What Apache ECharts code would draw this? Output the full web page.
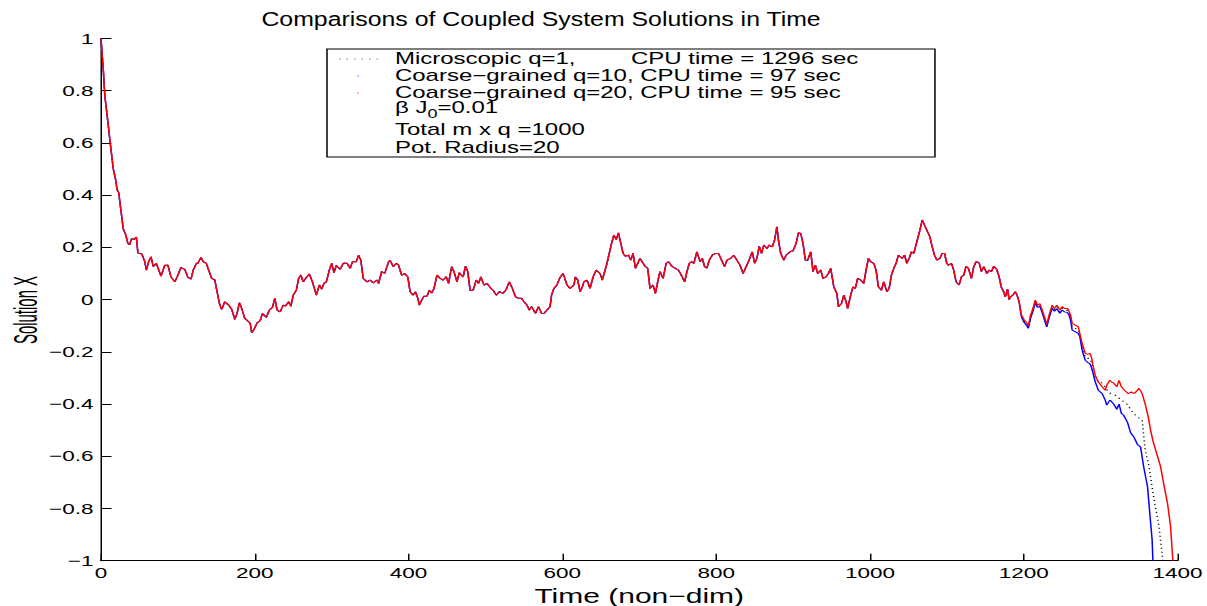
<!DOCTYPE html>
<html><head><meta charset="utf-8">
<script src="https://cdn.jsdelivr.net/npm/echarts@6/dist/echarts.min.js"></script>
<style>
html,body{margin:0;padding:0;background:#fff;overflow:hidden;}
#wrap{width:1207px;height:606px;overflow:hidden;}
#chart{width:804.667px;height:606px;transform:scaleX(1.5);transform-origin:0 0;}
</style></head><body>
<div id="wrap"><div id="chart"></div></div>
<script>
// ---- text ----
const titleText = 'Comparisons of Coupled System Solutions in Time';
const xAxisName = 'Time (non\u2212dim)';
const yAxisName = 'Solution X';
const seriesNames = ['Microscopic q=1,', 'Coarse\u2212grained q=10, CPU time = 97 sec', 'Coarse\u2212grained q=20, CPU time = 95 sec'];
const microCpuText = 'CPU time = 1296 sec';
const noteLines = ['Total m x q =1000', 'Pot. Radius=20'];

// ---- axes ----
const xMin = 0, xMax = 1400, xStep = 200;
const yMin = -1, yMax = 1, yStep = 0.2;

// ---- data (time, solution X) ----
// part where all three solutions coincide
const sharedPath = [
[0,1.0],[3,0.88],[5,0.78],[9,0.68],[12,0.60],[16,0.50],[19,0.46],[21,0.42],[23,0.41],[26,0.34],[29,0.27],[32,0.25],[35,0.215],[37,0.21],[40,0.234],[43,0.23],[46,0.24],[48,0.178],[53,0.175],[57,0.145],[59,0.113],[62,0.145],[65,0.164],[68,0.126],[72,0.139],[78,0.09],[83,0.132],[87,0.132],[91,0.087],[96,0.068],[99,0.087],[104,0.122],[109,0.116],[113,0.085],[117,0.078],[120,0.113],[124,0.139],[126,0.139],
[130,0.162],[133,0.145],[137,0.139],[140,0.113],[144,0.081],[148,0.075],[151,0.03],[154,-0.015],[157,-0.037],[161,-0.008],[166,-0.021],[170,-0.037],[174,-0.076],[177,-0.053],[180,-0.012],[183,-0.034],[187,-0.072],[192,-0.085],[194,-0.09],[196,-0.127],[199,-0.114],[203,-0.089],[207,-0.081],[210,-0.053],[215,-0.068],[219,-0.04],[223,-0.03],[226,0.005],[229,-0.04],[233,-0.047],[237,-0.021],[240,-0.025],[244,-0.008],[247,-0.025],[250,0.017],[254,0.036],[257,0.081],[260,0.094],[263,0.068],[266,0.081],[271,0.098],[275,0.068],[280,0.017],[284,0.056],[287,0.04],[290,0.062],[293,0.068],[297,0.113],[300,0.139],[303,0.103],[306,0.13],[311,0.116],[315,0.139],[320,0.139],[324,0.12],[327,0.145],[332,0.145],[335,0.17],[338,0.15],[341,0.081],[346,0.068],[350,0.075],[354,0.064],
[359,0.075],[361,0.062],[365,0.107],[369,0.1],[374,0.145],[376,0.15],[380,0.126],[384,0.139],[387,0.132],[391,0.094],[395,0.1],[399,0.087],[402,0.03],[406,0.017],[409,0.03],[412,0.005],[414,-0.021],[417,-0.002],[420,0.013],[424,0.013],[427,0.036],[430,0.025],[433,0.043],[437,0.094],[441,0.081],[445,0.075],[449,0.087],[452,0.062],[456,0.126],[459,0.107],[463,0.068],[466,0.103],[471,0.087],[474,0.128],[477,0.107],[480,0.036],[484,0.036],[488,0.075],[491,0.062],[494,0.087],[498,0.056],[502,0.062],[507,0.043],[510,0.036],[514,0.017],[518,0.03],[523,0.024],[527,0.039],[531,0.068],[535,0.043],[539,0.011],[543,0.005],[547,0.005],[550,-0.008],[554,-0.021],[557,-0.04],[560,-0.027],[565,-0.053],[569,-0.027],[573,-0.053],[576,-0.053],[580,-0.04],[584,-0.027],[586,0.017],[589,0.043],[593,0.056],[597,0.085],[601,0.1],[606,0.056],
[610,0.043],[615,0.056],[617,0.087],[620,0.075],[623,0.03],[626,0.049],[628,0.068],[632,0.075],[636,0.043],[640,0.087],[644,0.113],[649,0.1],[652,0.075],[655,0.107],[658,0.139],[661,0.177],[664,0.215],[667,0.247],[670,0.23],[673,0.256],[676,0.215],[679,0.177],[682,0.166],[686,0.17],[689,0.151],[692,0.177],[695,0.12],[698,0.139],[701,0.158],[705,0.139],[708,0.126],[711,0.12],[714,0.043],[718,0.056],[721,0.024],[724,0.068],[727,0.107],[731,0.081],[735,0.139],[738,0.145],[743,0.126],[747,0.12],[751,0.113],[756,0.087],[759,0.068],[762,0.107],[765,0.139],[768,0.145],[771,0.139],[775,0.183],[779,0.145],[782,0.158],[785,0.126],[788,0.12],[791,0.151],[795,0.17],[799,0.177],[803,0.177],[806,0.158],[811,0.126],[814,0.151],[819,0.158],[823,0.17],[827,0.151],[831,0.132],[835,0.1],[838,0.12],[842,0.145],[847,0.183],[850,0.139],[853,0.158],
[856,0.205],[859,0.177],[862,0.209],[866,0.196],[869,0.209],[873,0.202],[876,0.228],[879,0.279],[881,0.228],[884,0.177],[888,0.151],[891,0.17],[896,0.183],[900,0.187],[904,0.215],[907,0.256],[910,0.253],[913,0.215],[916,0.151],[919,0.151],[923,0.183],[926,0.107],[929,0.132],[932,0.1],[936,0.113],[939,0.081],[943,0.087],[946,0.1],[949,0.12],[953,0.049],[957,0.024],[959,-0.027],[963,-0.015],[966,0.017],[969,-0.008],[971,-0.034],[975,0.017],[978,0.049],[981,0.043],[984,0.081],[988,0.075],[992,0.062],[995,0.113],[998,0.158],[1001,0.145],[1005,0.139],[1008,0.113],[1011,0.049],[1015,0.036],[1018,0.068],[1022,0.03],[1025,0.043],[1028,0.094],[1031,0.12],[1034,0.139],[1037,0.17],[1042,0.158],[1045,0.17],[1048,0.139],[1051,0.158],[1054,0.183],[1057,0.177],[1061,0.221],[1065,0.266],[1068,0.305],[1071,0.285],[1074,0.266],[1078,0.24],[1081,0.202],[1084,0.17],[1087,0.151],[1091,0.158],[1094,0.177],[1097,0.177],[1100,0.139],
[1102,0.132],[1106,0.139],[1109,0.113],[1112,0.068],[1116,0.056],[1119,0.087],[1122,0.094],[1125,0.128],[1128,0.12],[1132,0.081],[1135,0.126],[1138,0.145],[1142,0.141],[1145,0.107],[1148,0.126],[1152,0.1],[1155,0.113],[1158,0.107],[1161,0.128],[1165,0.115],[1168,0.087],[1171,0.047],[1174,0.03],[1176,0.01],[1179,0.04],[1181,0.0],[1183,0.011],[1186,0.017],[1189,0.03],[1191,0.02],[1194,-0.008]
];
// after t~1195 the three runs separate
const microscopicTail = [
[1197,-0.06],[1200,-0.08],[1204,-0.095],[1206,-0.105],[1209,-0.065],[1212,-0.04],[1215,-0.007],[1218,-0.025],[1221,-0.02],[1224,-0.045],[1227,-0.072],[1230,-0.1],[1233,-0.065],[1237,-0.027],[1240,-0.04],[1243,-0.028],[1247,-0.046],[1250,-0.033],[1253,-0.04],[1257,-0.042],[1259,-0.053],[1261,-0.07],[1263,-0.104],[1267,-0.11],[1271,-0.117],[1273,-0.136],[1276,-0.18],[1280,-0.22],[1283,-0.225],[1286,-0.226],[1288,-0.24],[1290,-0.265],[1293,-0.3],[1297,-0.315],[1300,-0.315],[1305,-0.33],[1309,-0.35],[1313,-0.36],[1318,-0.365],[1322,-0.37],[1326,-0.385],[1330,-0.39],[1334,-0.40],[1339,-0.42],[1343,-0.436],[1348,-0.45],[1354,-0.46],[1356,-0.52],[1358,-0.576],[1363,-0.64],[1367,-0.72],[1371,-0.79],[1376,-0.87],[1379,-0.95],[1381,-1.0]
];
const coarse10Tail = [
[1197,-0.065],[1200,-0.085],[1204,-0.1],[1206,-0.11],[1209,-0.07],[1212,-0.045],[1215,-0.012],[1218,-0.03],[1221,-0.025],[1224,-0.05],[1227,-0.078],[1230,-0.105],[1233,-0.07],[1237,-0.033],[1240,-0.045],[1243,-0.035],[1247,-0.052],[1250,-0.04],[1253,-0.047],[1257,-0.05],[1259,-0.06],[1261,-0.08],[1263,-0.117],[1267,-0.123],[1271,-0.13],[1273,-0.142],[1276,-0.194],[1280,-0.232],[1283,-0.24],[1286,-0.245],[1288,-0.26],[1290,-0.28],[1293,-0.315],[1297,-0.347],[1302,-0.36],[1306,-0.385],[1308,-0.404],[1312,-0.385],[1314,-0.39],[1317,-0.40],[1321,-0.42],[1324,-0.40],[1327,-0.436],[1330,-0.443],[1335,-0.47],[1339,-0.51],[1343,-0.525],[1348,-0.555],[1352,-0.565],[1356,-0.64],[1361,-0.717],[1364,-0.82],[1367,-0.92],[1368,-1.0]
];
const coarse20Tail = [
[1197,-0.059],[1200,-0.075],[1204,-0.09],[1206,-0.1],[1209,-0.059],[1212,-0.034],[1215,-0.002],[1218,-0.021],[1221,-0.015],[1224,-0.04],[1227,-0.066],[1230,-0.095],[1233,-0.059],[1237,-0.021],[1240,-0.034],[1243,-0.021],[1247,-0.04],[1250,-0.027],[1253,-0.034],[1257,-0.034],[1259,-0.046],[1261,-0.059],[1263,-0.091],[1267,-0.098],[1271,-0.104],[1273,-0.13],[1276,-0.168],[1280,-0.206],[1283,-0.21],[1286,-0.206],[1288,-0.22],[1290,-0.25],[1293,-0.29],[1297,-0.315],[1302,-0.334],[1306,-0.347],[1308,-0.328],[1312,-0.309],[1314,-0.315],[1317,-0.32],[1321,-0.334],[1324,-0.309],[1327,-0.334],[1331,-0.347],[1336,-0.36],[1340,-0.353],[1344,-0.36],[1350,-0.34],[1354,-0.36],[1358,-0.40],[1362,-0.45],[1365,-0.50],[1368,-0.54],[1372,-0.58],[1378,-0.64],[1383,-0.72],[1387,-0.78],[1391,-0.87],[1394,-1.0]
];

const FONT = '"Liberation Sans", Arial, Helvetica, sans-serif';
const fmtNum = v => { const r = Math.round(v * 10) / 10; return r === 0 ? '0' : String(r).replace('-', '\u2212'); };

const chart = echarts.init(document.getElementById('chart'), null, {renderer: 'svg'});
chart.setOption({
  animation: false,
  backgroundColor: '#fff',
  textStyle: {fontFamily: FONT, color: '#000'},
  grid: {left: 67.33, right: 20, top: 38.5, bottom: 45.3, containLabel: false, outerBoundsMode: 'none'},
  xAxis: {
    type: 'value', min: xMin, max: xMax, interval: xStep,
    name: xAxisName, nameLocation: 'middle', nameGap: 16,
    nameTextStyle: {fontSize: 20, lineHeight: 20, color: '#000', fontFamily: FONT},
    axisLine: {show: true, onZero: false, lineStyle: {color: '#000', width: 1}},
    axisTick: {show: true, inside: true, length: 7, lineStyle: {color: '#000', width: 1}},
    axisLabel: {show: true, margin: 5, fontSize: 15, color: '#000', fontFamily: FONT, formatter: v => String(v)},
    splitLine: {show: false}
  },
  yAxis: {
    type: 'value', min: yMin, max: yMax, interval: yStep,
    axisLine: {show: true, onZero: false, lineStyle: {color: '#000', width: 1}},
    axisTick: {show: true, inside: true, length: 7, lineStyle: {color: '#000', width: 1}},
    axisLabel: {show: true, margin: 5, fontSize: 15, color: '#000', fontFamily: FONT, formatter: fmtNum},
    splitLine: {show: false}
  },
  series: [
    {type: 'line', name: seriesNames[0], data: sharedPath.concat(microscopicTail), symbol: 'none', showSymbol: false,
     lineStyle: {color: '#000', width: 1, type: [1, 3]}, z: 2},
    {type: 'line', name: seriesNames[1], data: sharedPath.concat(coarse10Tail), symbol: 'none', showSymbol: false,
     lineStyle: {color: '#0000ff', width: 1}, z: 3},
    {type: 'line', name: seriesNames[2], data: sharedPath.concat(coarse20Tail), symbol: 'none', showSymbol: false,
     lineStyle: {color: '#ff0000', width: 1}, z: 4}
  ],
  graphic: [
    {type: 'text', x: 360.7, y: 19, scaleX: 0.85, z: 10,
     style: {text: titleText, fontSize: 19.5, fontFamily: FONT, fill: '#000', align: 'center', verticalAlign: 'middle'}},
    {type: 'text', x: 17, y: 310, rotation: Math.PI / 2, scaleX: 0.68, z: 10,
     style: {text: yAxisName, fontSize: 22, fontFamily: FONT, fill: '#000', align: 'center', verticalAlign: 'middle'}},
    {type: 'rect', z: 20, shape: {x: 218, y: 49, width: 405.3, height: 108},
     style: {fill: '#fff', stroke: '#000', lineWidth: 1}},
    {type: 'line', z: 21, shape: {x1: 226, y1: 59, x2: 253, y2: 59},
     style: {stroke: '#888', lineWidth: 1, lineDash: [1, 4]}},
    {type: 'circle', z: 21, shape: {cx: 238.7, cy: 76, r: 0.6}, style: {fill: '#8080ff'}},
    {type: 'circle', z: 21, shape: {cx: 238.7, cy: 93, r: 0.6}, style: {fill: '#ff8080'}},
    {type: 'text', z: 21, x: 263.3, y: 59, style: {text: seriesNames[0], fontSize: 16, fontFamily: FONT, fill: '#000', verticalAlign: 'middle'}},
    {type: 'text', z: 21, x: 420.7, y: 59, style: {text: microCpuText, fontSize: 16, fontFamily: FONT, fill: '#000', verticalAlign: 'middle'}},
    {type: 'text', z: 21, x: 263.3, y: 76, style: {text: seriesNames[1], fontSize: 16, fontFamily: FONT, fill: '#000', verticalAlign: 'middle'}},
    {type: 'text', z: 21, x: 263.3, y: 93, style: {text: seriesNames[2], fontSize: 16, fontFamily: FONT, fill: '#000', verticalAlign: 'middle'}},
    {type: 'text', z: 21, x: 263.3, y: 108, style: {text: '{a|\u03b2 J}{s|0}{a|=0.01}', verticalAlign: 'middle',
      rich: {a: {fontSize: 16, fontFamily: FONT, fill: '#000', lineHeight: 18, verticalAlign: 'middle'},
             s: {fontSize: 12, fontFamily: FONT, fill: '#000', lineHeight: 24, verticalAlign: 'bottom'}}}},
    {type: 'text', z: 21, x: 263.3, y: 130, style: {text: noteLines[0], fontSize: 16, fontFamily: FONT, fill: '#000', verticalAlign: 'middle'}},
    {type: 'text', z: 21, x: 263.3, y: 148, style: {text: noteLines[1], fontSize: 16, fontFamily: FONT, fill: '#000', verticalAlign: 'middle'}}
  ]
});
</script>
</body></html>
